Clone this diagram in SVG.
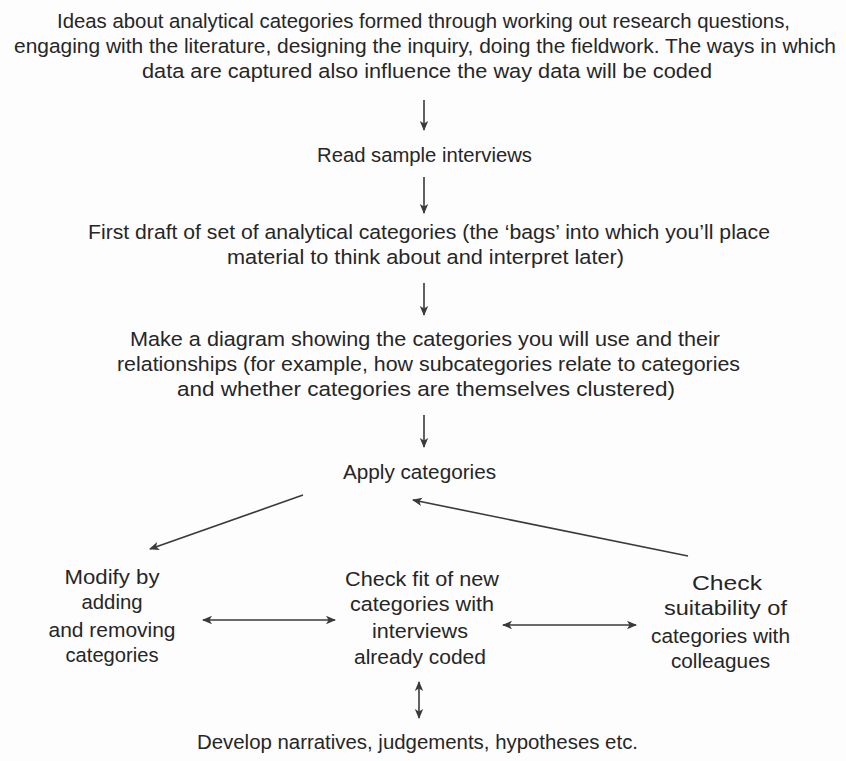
<svg xmlns="http://www.w3.org/2000/svg" width="846" height="761" viewBox="0 0 846 761">
<style>
text{font-family:"Liberation Sans",Arial,sans-serif;font-size:20.5px;fill:#262626;text-anchor:middle}
.c{stroke:#3a3a3a;stroke-width:1.6;fill:none}
</style>
<defs>
<marker id="ah" viewBox="0 0 10 10" refX="9" refY="5" markerWidth="10" markerHeight="10" markerUnits="userSpaceOnUse" orient="auto-start-reverse">
<path d="M0,0.8 L10,5 L0,9.2 L2.5,5 Z" fill="#3a3a3a"/>
</marker>
</defs>
<rect width="846" height="761" fill="#fdfdfd"/>
<g id="n1">
<text x="423.5" y="28" textLength="733" lengthAdjust="spacingAndGlyphs">Ideas about analytical categories formed through working out research questions,</text>
<text x="425" y="53" textLength="822" lengthAdjust="spacingAndGlyphs">engaging with the literature, designing the inquiry, doing the fieldwork. The ways in which</text>
<text x="427" y="78" textLength="570" lengthAdjust="spacingAndGlyphs">data are captured also influence the way data will be coded</text>
</g>
<g id="n2">
<text x="424.5" y="162" textLength="215" lengthAdjust="spacingAndGlyphs">Read sample interviews</text>
</g>
<g id="n3">
<text x="429" y="239" textLength="682" lengthAdjust="spacingAndGlyphs">First draft of set of analytical categories (the ‘bags’ into which you’ll place</text>
<text x="425.5" y="264" textLength="397" lengthAdjust="spacingAndGlyphs">material to think about and interpret later)</text>
</g>
<g id="n4">
<text x="425" y="346" textLength="590" lengthAdjust="spacingAndGlyphs">Make a diagram showing the categories you will use and their</text>
<text x="428.5" y="371" textLength="623" lengthAdjust="spacingAndGlyphs">relationships (for example, how subcategories relate to categories</text>
<text x="426" y="396" textLength="498" lengthAdjust="spacingAndGlyphs">and whether categories are themselves clustered)</text>
</g>
<g id="n5">
<text x="419.5" y="479" textLength="153" lengthAdjust="spacingAndGlyphs">Apply categories</text>
</g>
<g id="n6">
<text x="112" y="584" textLength="95" lengthAdjust="spacingAndGlyphs">Modify by</text>
<text x="112" y="609" textLength="61" lengthAdjust="spacingAndGlyphs">adding</text>
<text x="112" y="637" textLength="127" lengthAdjust="spacingAndGlyphs">and removing</text>
<text x="112" y="662" textLength="93" lengthAdjust="spacingAndGlyphs">categories</text>
</g>
<g id="n7">
<text x="422" y="586" textLength="154" lengthAdjust="spacingAndGlyphs">Check fit of new</text>
<text x="422" y="611" textLength="144" lengthAdjust="spacingAndGlyphs">categories with</text>
<text x="420" y="638" textLength="96" lengthAdjust="spacingAndGlyphs">interviews</text>
<text x="420" y="664" textLength="132" lengthAdjust="spacingAndGlyphs">already coded</text>
</g>
<g id="n8">
<text x="727" y="590" textLength="70" lengthAdjust="spacingAndGlyphs">Check</text>
<text x="725.5" y="615" textLength="123" lengthAdjust="spacingAndGlyphs">suitability of</text>
<text x="720.5" y="643" textLength="139" lengthAdjust="spacingAndGlyphs">categories with</text>
<text x="720.5" y="668" textLength="99" lengthAdjust="spacingAndGlyphs">colleagues</text>
</g>
<g id="n9">
<text x="417.5" y="749" textLength="441" lengthAdjust="spacingAndGlyphs">Develop narratives, judgements, hypotheses etc.</text>
</g>
<g id="connectors">
<line class="c" x1="424" y1="100" x2="424" y2="130" marker-end="url(#ah)"/>
<line class="c" x1="424" y1="177" x2="424" y2="213" marker-end="url(#ah)"/>
<line class="c" x1="424" y1="283" x2="424" y2="315" marker-end="url(#ah)"/>
<line class="c" x1="424" y1="415" x2="424" y2="447" marker-end="url(#ah)"/>
<line class="c" x1="303" y1="495" x2="150" y2="549" marker-end="url(#ah)"/>
<line class="c" x1="688" y1="556" x2="413" y2="500" marker-end="url(#ah)"/>
<line class="c" x1="203" y1="620" x2="335" y2="620" marker-start="url(#ah)" marker-end="url(#ah)"/>
<line class="c" x1="503" y1="625" x2="636" y2="625" marker-start="url(#ah)" marker-end="url(#ah)"/>
<line class="c" x1="419" y1="682" x2="419" y2="718" marker-start="url(#ah)" marker-end="url(#ah)"/>
</g>
</svg>
